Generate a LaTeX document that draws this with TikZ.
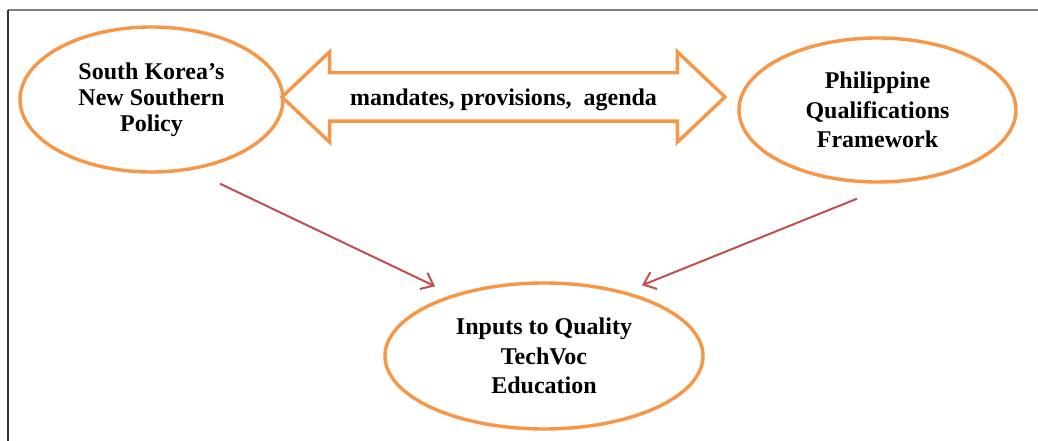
\documentclass[tikz,border=0pt]{standalone}
\usepackage{fontspec}
\setmainfont{Liberation Serif}
\usetikzlibrary{positioning,arrows.meta,shapes.geometric,shapes.arrows,calc}

\definecolor{accorange}{HTML}{F79646}
\definecolor{accred}{HTML}{C0504D}

\begin{document}
\begin{tikzpicture}[
  x=1pt, y=1pt,
  font=\bfseries\fontsize{24}{29.5}\selectfont,
  >={Straight Barb[length=11pt,width=18pt]},
  bubble/.style={
    ellipse, draw=accorange, line width=3.4pt, fill=white,
    align=center, inner sep=0pt
  },
  linkbox/.style={
    double arrow, draw=accorange, line width=3.4pt, fill=white,
    inner xsep=0pt, inner ysep=0pt, text height=31.5pt, text depth=13.5pt,
    double arrow head extend=21pt, double arrow tip angle=87,
    minimum height=443pt
  },
  link/.style={->, line width=2pt, accred}
]
\useasboundingbox (0,0) rectangle (1038,441);

% ---------- frame (only top and left edges show) ----------
\draw[line width=1.5pt, black!50] (8,431) -- (1038,431);
\draw[line width=1.5pt, black!80] (8,431) -- (8,0);

% ---------- top row ----------
\node[bubble, minimum width=263pt, minimum height=145pt,
      font=\bfseries\fontsize{24}{26}\selectfont] (kor) at (151.5,341.5)
  {South Korea's\\New Southern\\Policy};
\node[bubble, minimum width=277pt, minimum height=144pt] (phq) at (877.5,331)
  {Philippine\\Qualifications\\Framework};

\node[linkbox] (mpa) at (503.5,344) {mandates, provisions,\ \ agenda};

% ---------- bottom ----------
\node[bubble, minimum width=318pt, minimum height=146pt] (inp) at (544,85)
  {Inputs to Quality\\TechVoc\\Education};

% both policies feed into the outcome
\draw[link] ($(kor.south)+(68.5,-10)$) -- ($(inp.north)+(-109,-5)$);
\draw[link] ($(phq.south)+(-20.5,-15)$) -- ($(inp.north)+(98,-4)$);

\end{tikzpicture}
\end{document}
